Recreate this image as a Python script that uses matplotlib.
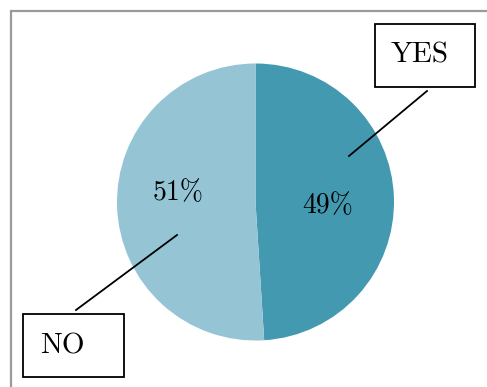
import matplotlib
matplotlib.use("Agg")
import matplotlib.pyplot as plt
import matplotlib.patches as mpatches

plt.rcParams["font.family"] = ["cmr10", "DejaVu Serif"]
plt.rcParams["axes.formatter.use_mathtext"] = True

# ─── Data ────────────────────────────────────────────────────────────────────
labels = ["YES", "NO"]
shares = [49, 51]
colors = ["#4399B0", "#95C4D5"]

W, H = 487, 387

fig = plt.figure(figsize=(W / 100, H / 100), dpi=100)
ax = fig.add_axes([0, 0, 1, 1])

# chart frame (runs off the right and bottom edges)
frame = mpatches.Rectangle((11, -20), W + 20, H - 11 + 20, fill=False,
                           edgecolor="#9a9a9a", linewidth=1.6)
ax.add_patch(frame)

center = (255.5, H - 202)
radius = 138.5
ax.pie(shares, colors=colors, startangle=90, counterclock=False,
       center=center, radius=radius, frame=True,
       wedgeprops=dict(linewidth=0))
ax.set_xlim(0, W)
ax.set_ylim(0, H)
ax.set_aspect("equal")
ax.axis("off")

# percentage labels
pct_pos = [(328, H - 206), (178, H - 193)]
for (x, y), v in zip(pct_pos, shares):
    ax.text(x, y, f"{v}%", ha="center", va="center", fontsize=20)

# callout boxes with leader lines
boxes = [(375, 24, 100, 63), (23, 314, 101, 63)]
text_pos = [(420, 55), (62, 346)]
leaders = [((427, 91), (349, 156)), ((76, 310), (177, 235))]
for name, (bx, by, bw, bh), (tx, ty), (p0, p1) in zip(labels, boxes, text_pos, leaders):
    ax.add_patch(mpatches.Rectangle((bx, H - by - bh), bw, bh, fill=False,
                                    edgecolor="black", linewidth=1.3))
    ax.text(tx, H - ty, name, ha="center", va="center", fontsize=21)
    ax.plot([p0[0], p1[0]], [H - p0[1], H - p1[1]], color="black", linewidth=1.3)

fig.savefig("out.png", dpi=100)
